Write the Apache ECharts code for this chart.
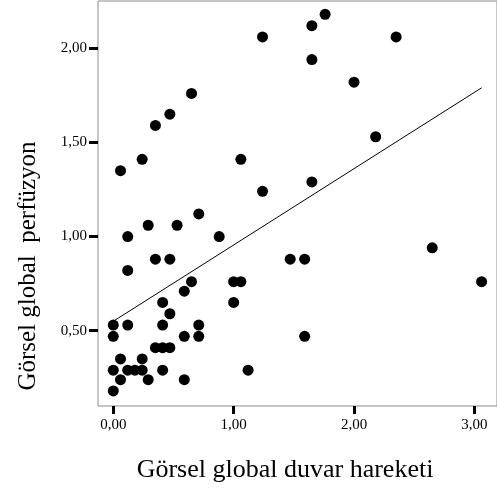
<!DOCTYPE html>
<html>
<head>
<meta charset="utf-8">
<script src="https://cdn.jsdelivr.net/npm/echarts@6/dist/echarts.min.js"></script>
<style>html,body{margin:0;padding:0;background:#fff}#c{width:497px;height:497px}</style>
</head>
<body>
<div id="c"></div>
<script>
// Görsel global duvar hareketi (x) vs Görsel global perfüzyon (y)
const wallMotion = [1.24,0.65,0.47,0.35,0.24,0.06,1.06,1.24,
  1.76,1.65,2.35,1.65,2.00,2.18,1.65,
  0.71,0.29,0.53,0.12,0.88,0.35,0.47,1.47,0.12,0.65,1.00,1.06,0.59,0.41,1.00,0.47,
  0.00,0.12,0.41,0.71,0.00,0.59,0.71,0.35,0.41,0.47,0.06,0.24,0.00,0.12,0.18,0.24,0.41,1.12,
  0.06,0.29,0.59,0.00,
  1.59,2.65,3.06,1.59];
const perfusion = [2.06,1.76,1.65,1.59,1.41,1.35,1.41,1.24,
  2.18,2.12,2.06,1.94,1.82,1.53,1.29,
  1.12,1.06,1.06,1.00,1.00,0.88,0.88,0.88,0.82,0.76,0.76,0.76,0.71,0.65,0.65,0.59,
  0.53,0.53,0.53,0.53,0.47,0.47,0.47,0.41,0.41,0.41,0.35,0.35,0.29,0.29,0.29,0.29,0.29,0.29,
  0.24,0.24,0.24,0.18,
  0.88,0.94,0.76,0.47];
// fitted line end points
const fitX = [0.00, 3.06];
const fitY = [0.55, 1.79];
const xTicks = [0, 1, 2, 3];
const xTickLabels = ['0,00', '1,00', '2,00', '3,00'];
const yTicks = [0.5, 1.0, 1.5, 2.0];
const yTickLabels = ['0,50', '1,00', '1,50', '2,00'];
const xTitle = 'Görsel global duvar hareketi';
const yTitle = 'Görsel global  perfüzyon';

const pts = wallMotion.map((x, i) => [x, perfusion[i]]);
const fit = fitX.map((x, i) => [x, fitY[i]]);
const FONT = 'Liberation Serif';

const chart = echarts.init(document.getElementById('c'), null, {renderer: 'canvas'});
chart.setOption({
  animation: false,
  backgroundColor: '#fff',
  grid: {left: 98, top: 1, width: 400, height: 405, show: true, borderColor: '#8c8c8c', borderWidth: 1, backgroundColor: 'transparent'},
  xAxis: {
    type: 'value', min: -0.127, max: 3.188,
    axisLine: {show: false, onZero: false},
    splitLine: {show: false},
    axisTick: {show: true, customValues: xTicks, length: 8, lineStyle: {color: '#000', width: 3}},
    axisLabel: {customValues: xTicks, color: '#000', fontFamily: FONT, fontSize: 15, margin: 12,
      formatter: v => xTickLabels[xTicks.indexOf(v)]}
  },
  yAxis: {
    type: 'value', min: 0.100, max: 2.251,
    axisLine: {show: false, onZero: false},
    splitLine: {show: false},
    axisTick: {show: true, customValues: yTicks, length: 9, lineStyle: {color: '#000', width: 3}},
    axisLabel: {customValues: yTicks, color: '#000', fontFamily: FONT, fontSize: 15, margin: 11,
      formatter: v => yTickLabels[yTicks.indexOf(v)]}
  },
  graphic: [
    {type: 'text', x: 285, y: 470, style: {text: xTitle, font: '26px "Liberation Serif"', fill: '#000', textAlign: 'center', textVerticalAlign: 'middle'}},
    {type: 'text', x: 28, y: 266, rotation: Math.PI / 2, style: {text: yTitle, font: '25px "Liberation Serif"', fill: '#000', textAlign: 'center', textVerticalAlign: 'middle'}}
  ],
  series: [
    {type: 'scatter', data: pts, symbolSize: 11, itemStyle: {color: '#000', opacity: 1}, z: 3},
    {type: 'line', data: fit, symbol: 'none', lineStyle: {color: '#000', width: 1}, z: 2}
  ]
});
</script>
</body>
</html>
